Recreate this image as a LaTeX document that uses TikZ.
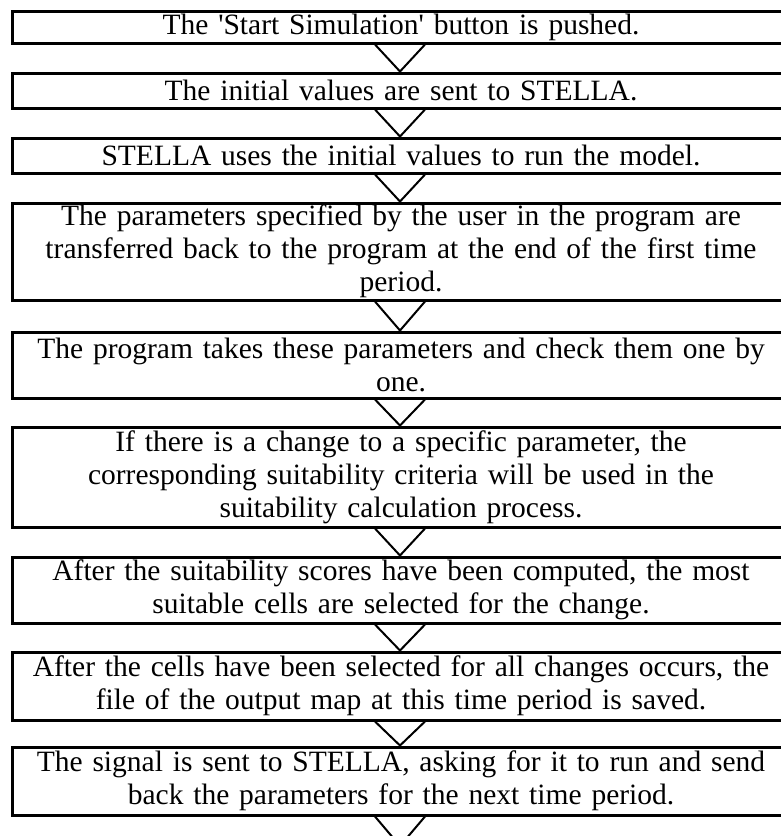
\documentclass[tikz,border=0pt]{standalone}
\usepackage{fontspec}
\setmainfont{Liberation Serif}
\usetikzlibrary{calc}
\begin{document}
\begin{tikzpicture}[x=1pt,y=-1pt,
  stepbox/.style={draw=black, line width=3pt, rectangle, inner sep=0pt,
    minimum width=778pt, text width=776pt, align=center,
    font=\fontsize{29.5pt}{33pt}\selectfont},
  tri/.style={draw=black, line width=2pt, line join=miter}]
\clip (0,0) rectangle (781,836);
\useasboundingbox (0,0) rectangle (781,836);
\fill[white] (0,0) rectangle (781,836);
\node[stepbox, minimum height=32pt] (b1) at (401,27) {The \textquotesingle Start Simulation\textquotesingle\ button is pushed.};
\node[stepbox, minimum height=35pt] (b2) at (401,90.5) {The initial values are sent to STELLA.};
\node[stepbox, minimum height=35pt] (b3) at (401,155.5) {STELLA uses the initial values to run the model.};
\node[stepbox, minimum height=97pt] (b4) at (401,251.5) {The parameters specified by the user in the program are\\ transferred back to the program at the end of the first time\\ period.};
\node[stepbox, minimum height=66pt] (b5) at (401,365) {The program takes these parameters and check them one by\\ one.};
\node[stepbox, minimum height=100pt] (b6) at (401,477) {If there is a change to a specific parameter, the\\ corresponding suitability criteria will be used in the\\ suitability calculation process.};
\node[stepbox, minimum height=66pt] (b7) at (401,590) {After the suitability scores have been computed, the most\\ suitable cells are selected for the change.};
\node[stepbox, minimum height=68pt] (b8) at (401,686) {After the cells have been selected for all changes occurs, the\\ file of the output map at this time period is saved.};
\node[stepbox, minimum height=68pt] (b9) at (401,781) {The signal is sent to STELLA, asking for it to run and send\\ back the parameters for the next time period.};
\coordinate (end) at (400,846);
\foreach \a/\b in {b1/b2,b2/b3,b3/b4,b4/b5,b5/b6,b6/b7,b7/b8,b8/b9} {
  \draw[tri] ($(\a.south)+(-26,0)$) -- ($(\b.north)+(-1,0)$) -- ($(\a.south)+(24,0)$);
}
\draw[tri] ($(b9.south)+(-26,0)$) -- (end) -- ($(b9.south)+(24,0)$);
\end{tikzpicture}
\end{document}
